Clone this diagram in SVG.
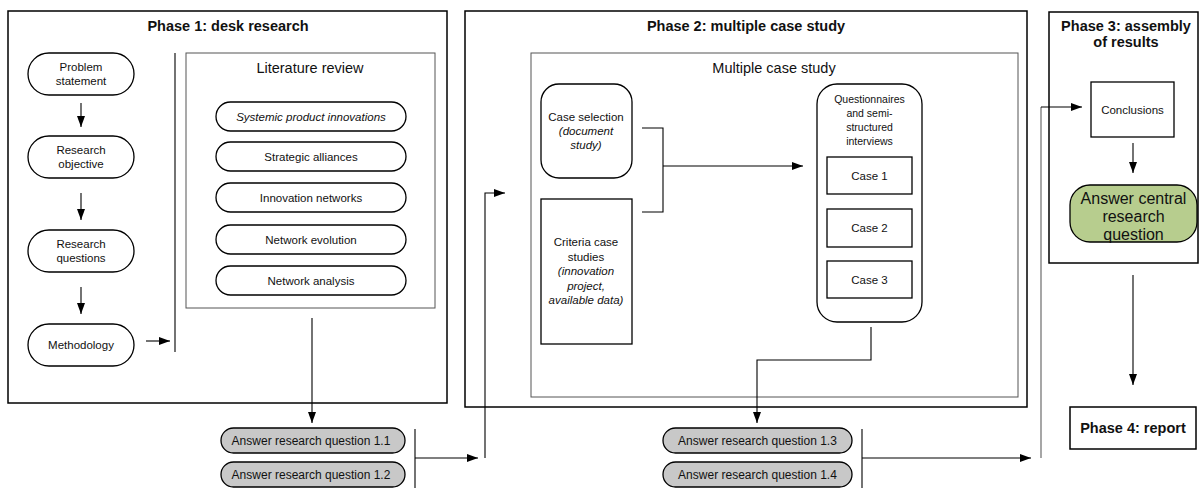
<svg xmlns="http://www.w3.org/2000/svg" width="1204" height="488" viewBox="0 0 1204 488">
<defs>
<marker id="ah" markerUnits="userSpaceOnUse" markerWidth="11" markerHeight="8" refX="11" refY="4" orient="auto">
<path d="M0,0 L11,4 L0,8 z" fill="#000"/>
</marker>
<style>
text{font-family:"Liberation Sans",Arial,sans-serif;fill:#111;text-anchor:middle}
.title{font-size:14.5px;font-weight:bold}
.sub{font-size:14.5px}
.n{font-size:11.5px}
.s{font-size:10.5px}
.it{font-style:italic}
.phase{fill:#fff;stroke:#000;stroke-width:1.5}
.inner{fill:#fff;stroke:#555;stroke-width:1}
.node{fill:#fff;stroke:#000;stroke-width:1.3}
.ans{fill:#c8c8c8;stroke:#000;stroke-width:1.3}
.green{fill:#b7cd8e;stroke:#000;stroke-width:1.3}
.c{fill:none;stroke:#000;stroke-width:1.1}
.g{fill:none;stroke:#777;stroke-width:1.3}
</style>
</defs>
<rect width="1204" height="488" fill="#fff"/>

<g id="phase1">
<rect class="phase" x="8" y="11" width="439" height="392"/>
<text class="title" x="228" y="31">Phase 1: desk research</text>
</g>
<g id="phase2">
<rect class="phase" x="465" y="11" width="562" height="396"/>
<text class="title" x="746" y="31">Phase 2: multiple case study</text>
</g>
<g id="phase3">
<rect class="phase" x="1049" y="12" width="149" height="251"/>
<text class="title" x="1126" y="31">Phase 3: assembly</text>
<text class="title" x="1126" y="47">of results</text>
</g>
<g id="phase4">
<rect class="phase" x="1070" y="407" width="126" height="42"/>
<text class="title" x="1133" y="433">Phase 4: report</text>
</g>

<g id="problem-statement">
<rect class="node" x="28" y="53" width="106" height="42" rx="21"/>
<text class="n" x="81" y="71">Problem</text>
<text class="n" x="81" y="85">statement</text>
</g>
<g id="research-objective">
<rect class="node" x="28" y="136" width="106" height="42" rx="21"/>
<text class="n" x="81" y="154">Research</text>
<text class="n" x="81" y="168">objective</text>
</g>
<g id="research-questions">
<rect class="node" x="28" y="230" width="106" height="42" rx="21"/>
<text class="n" x="81" y="248">Research</text>
<text class="n" x="81" y="262">questions</text>
</g>
<g id="methodology">
<rect class="node" x="28" y="324" width="106" height="42" rx="21"/>
<text class="n" x="81" y="349">Methodology</text>
</g>

<g id="literature-review">
<rect class="inner" x="186" y="53" width="249" height="255"/>
<text class="sub" x="310" y="73">Literature review</text>
</g>
<g id="systemic">
<rect class="node" x="216" y="102" width="190" height="29" rx="14.5"/>
<text class="n it" x="311" y="120.5">Systemic product innovations</text>
</g>
<g id="strategic">
<rect class="node" x="216" y="142" width="190" height="29" rx="14.5"/>
<text class="n" x="311" y="160.5">Strategic alliances</text>
</g>
<g id="innovation-networks">
<rect class="node" x="216" y="183" width="190" height="29" rx="14.5"/>
<text class="n" x="311" y="201.5">Innovation networks</text>
</g>
<g id="network-evolution">
<rect class="node" x="216" y="225" width="190" height="29" rx="14.5"/>
<text class="n" x="311" y="243.5">Network evolution</text>
</g>
<g id="network-analysis">
<rect class="node" x="216" y="266" width="190" height="29" rx="14.5"/>
<text class="n" x="311" y="284.5">Network analysis</text>
</g>

<g id="multiple-case-study">
<rect class="inner" x="531" y="53" width="487" height="344"/>
<text class="sub" x="774" y="73">Multiple case study</text>
</g>
<g id="case-selection">
<rect class="node" x="541" y="84" width="91" height="94" rx="18"/>
<text class="n" x="586" y="121">Case selection</text>
<text class="n it" x="586" y="135">(document</text>
<text class="n it" x="586" y="149">study)</text>
</g>
<g id="criteria">
<rect class="node" x="541" y="199" width="91" height="145"/>
<text class="n" x="586" y="246">Criteria case</text>
<text class="n" x="586" y="260.5">studies</text>
<text class="n it" x="586" y="275">(innovation</text>
<text class="n it" x="586" y="289.5">project,</text>
<text class="n it" x="586" y="304">available data)</text>
</g>
<g id="questionnaires">
<rect class="node" x="817" y="84" width="105" height="238" rx="20"/>
<text class="s" x="869.5" y="103">Questionnaires</text>
<text class="s" x="869.5" y="117">and semi-</text>
<text class="s" x="869.5" y="131">structured</text>
<text class="s" x="869.5" y="145">interviews</text>
</g>
<g id="case1">
<rect class="node" x="827" y="157" width="85" height="37"/>
<text class="n" x="869.5" y="179.5">Case 1</text>
</g>
<g id="case2">
<rect class="node" x="827" y="209" width="85" height="38"/>
<text class="n" x="869.5" y="232">Case 2</text>
</g>
<g id="case3">
<rect class="node" x="827" y="261" width="85" height="37"/>
<text class="n" x="869.5" y="283.5">Case 3</text>
</g>

<g id="conclusions">
<rect class="node" x="1091" y="82" width="83" height="55"/>
<text class="n" x="1132.5" y="113.5">Conclusions</text>
</g>
<g id="answer-central">
<rect class="green" x="1070" y="185" width="127" height="57" rx="20"/>
<text x="1133.5" y="204" style="font-size:16px">Answer central</text>
<text x="1133.5" y="222" style="font-size:16px">research</text>
<text x="1133.5" y="240" style="font-size:16px">question</text>
</g>

<g id="answer-1-1">
<rect class="ans" x="221" y="428" width="184" height="25" rx="12.5"/>
<text class="n" style="font-size:12px" x="311" y="444.5">Answer research question 1.1</text>
</g>
<g id="answer-1-2">
<rect class="ans" x="221" y="462" width="184" height="25" rx="12.5"/>
<text class="n" style="font-size:12px" x="311" y="478.5">Answer research question 1.2</text>
</g>
<g id="answer-1-3">
<rect class="ans" x="663" y="428" width="189" height="25" rx="12.5"/>
<text class="n" style="font-size:12px" x="757.5" y="444.5">Answer research question 1.3</text>
</g>
<g id="answer-1-4">
<rect class="ans" x="663" y="462" width="189" height="25" rx="12.5"/>
<text class="n" style="font-size:12px" x="757.5" y="478.5">Answer research question 1.4</text>
</g>

<g id="connectors">
<line class="c" x1="81" y1="103" x2="81" y2="127" marker-end="url(#ah)"/>
<line class="c" x1="81" y1="193" x2="81" y2="220" marker-end="url(#ah)"/>
<line class="c" x1="81" y1="287" x2="81" y2="314" marker-end="url(#ah)"/>
<line class="c" x1="146" y1="341" x2="170" y2="341" marker-end="url(#ah)"/>
<line class="c" x1="175" y1="53" x2="175" y2="352"/>
<line class="c" x1="312" y1="318" x2="312" y2="423" marker-end="url(#ah)"/>
<line class="c" x1="415" y1="429" x2="415" y2="488"/>
<line class="c" x1="415" y1="458" x2="478" y2="458" marker-end="url(#ah)"/>
<polyline class="c" points="485,458 485,193 505,193" marker-end="url(#ah)"/>
<polyline class="c" points="642,128 663,128 663,212 642,212"/>
<line class="c" x1="663" y1="166" x2="803" y2="166" marker-end="url(#ah)"/>
<polyline class="c" points="871,327 871,360 757,360 757,423" marker-end="url(#ah)"/>
<line class="c" x1="862" y1="429" x2="862" y2="488"/>
<line class="c" x1="862" y1="458" x2="1031" y2="458" marker-end="url(#ah)"/>
<polyline class="g" points="1041,458 1041,107"/>
<line class="c" x1="1041" y1="107" x2="1082" y2="107" marker-end="url(#ah)"/>
<line class="c" x1="1133" y1="143" x2="1133" y2="173" marker-end="url(#ah)"/>
<line class="c" x1="1133" y1="275" x2="1133" y2="385" marker-end="url(#ah)"/>
</g>
</svg>
